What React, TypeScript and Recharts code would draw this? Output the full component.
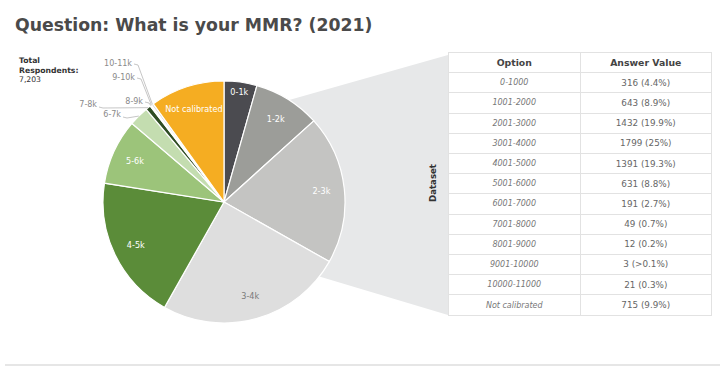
import { PieChart, Pie, Cell } from 'recharts'

const BRACKETS = ['0-1k', '1-2k', '2-3k', '3-4k', '4-5k', '5-6k', '6-7k', '7-8k', '8-9k', '9-10k', '10-11k', 'Not calibrated']
const OPTIONS = ['0-1000', '1001-2000', '2001-3000', '3001-4000', '4001-5000', '5001-6000', '6001-7000', '7001-8000', '8001-9000', '9001-10000', '10000-11000', 'Not calibrated']
const COUNTS = [316, 643, 1432, 1799, 1391, 631, 191, 49, 12, 3, 21, 715]
const SHARES = ['4.4%', '8.9%', '19.9%', '25%', '19.3%', '8.8%', '2.7%', '0.7%', '0.2%', '>0.1%', '0.3%', '9.9%']
const TOTAL_RESPONDENTS = '7,203'

const COLORS = ['#4b4b50', '#9c9d99', '#c4c4c2', '#dedede', '#5b8c39', '#9cc47a', '#c4ddb0', '#2f4d24', '#6e8f55', '#f4f4f4', '#d8d8d8', '#f5ad22']

const data = BRACKETS.map((name, i) => ({ name, value: COUNTS[i] }))

// pie geometry
const CX = 224
const CY = 202
const R = 121
const FONT = '"DejaVu Sans", Verdana, sans-serif'
const RAD = Math.PI / 180

// where the tiny slices put their text (anchor end, baseline, leader y)
const OUTSIDE: Record<string, [number, number, number]> = {
  '10-11k': [132, 66, 64],
  '9-10k': [135, 80, 78],
  '8-9k': [143, 104, 102],
  '7-8k': [97, 107, 107],
  '6-7k': [121, 117, 117],
}

function SliceLabel(props: any) {
  const { cx, cy, midAngle, outerRadius, name } = props
  const out = OUTSIDE[name]
  if (out) {
    const [tx, ty, ly] = out
    const ex = cx + outerRadius * Math.cos(-midAngle * RAD)
    const ey = cy + outerRadius * Math.sin(-midAngle * RAD)
    return (
      <g>
        <polyline points={`${tx + 2},${ly} ${tx + 6},${ly + 1} ${ex},${ey}`} fill="none" stroke="#b8b8b8" strokeWidth={0.8} />
        <text x={tx} y={ty} textAnchor="end" fontSize={8} fontFamily={FONT} fill="#8a8a8a">{name}</text>
      </g>
    )
  }
  const r = outerRadius * (name === '0-1k' ? 0.92 : 0.81)
  const x = cx + r * Math.cos(-midAngle * RAD)
  const y = cy + r * Math.sin(-midAngle * RAD)
  return (
    <text x={x} y={y} textAnchor="middle" dominantBaseline="central" fontSize={8.1} fontFamily={FONT}
      fill={name === '3-4k' ? '#7a7a7a' : '#ffffff'}>
      {name}
    </text>
  )
}

function Backdrop() {
  // grey wedge joining the pie to the table
  const a1 = 57.4 * RAD
  const a2 = -38 * RAD
  const p1 = [CX + R * Math.cos(a1), CY - R * Math.sin(a1)]
  const p2 = [CX + R * Math.cos(a2), CY - R * Math.sin(a2)]
  const pts = `${CX},${CY} ${p1[0]},${p1[1]} 448,55 448,315 ${p2[0]},${p2[1]}`
  return (
    <svg width={720} height={368} style={{ position: 'absolute', left: 0, top: 0 }}>
      <polygon points={pts} fill="#e7e8e9" />
      <text x={15} y={30.5} fontSize={17.3} fontWeight="bold" fontFamily={FONT} fill="#4a4a4a">
        Question: What is your MMR? (2021)
      </text>
      <text x={19} y={63} fontSize={7.7} fontWeight="bold" fontFamily={FONT} fill="#333">Total</text>
      <text x={19} y={72.5} fontSize={7.7} fontWeight="bold" fontFamily={FONT} fill="#333">Respondents:</text>
      <text x={19} y={82} fontSize={7.7} fontFamily={FONT} fill="#333">{TOTAL_RESPONDENTS}</text>
      <text x={433} y={183} transform="rotate(-90 433 183)" textAnchor="middle" dominantBaseline="central"
        fontSize={8.6} fontWeight="bold" fontFamily={FONT} fill="#333">Dataset</text>
      <rect x={5} y={364} width={715} height={2} fill="#e6e6e6" />
    </svg>
  )
}

function DataTable() {
  const cell = { flex: 1, display: 'flex', alignItems: 'center', justifyContent: 'center', height: '100%' } as const
  return (
    <div style={{ position: 'absolute', left: 448, top: 52, width: 264, background: '#fff', border: '1px solid #e2e2e2', boxSizing: 'border-box', fontFamily: FONT }}>
      <div style={{ display: 'flex', height: 20.2, borderBottom: '1px solid #e2e2e2', boxSizing: 'border-box', fontWeight: 'bold', fontSize: 9.3, color: '#444' }}>
        <div style={{ ...cell, borderRight: '1px solid #e2e2e2' }}>Option</div>
        <div style={cell}>Answer Value</div>
      </div>
      {OPTIONS.map((opt, i) => (
        <div key={opt} style={{ display: 'flex', height: 20.2, borderBottom: i < OPTIONS.length - 1 ? '1px solid #e2e2e2' : 'none', boxSizing: 'border-box' }}>
          <div style={{ ...cell, borderRight: '1px solid #e2e2e2', fontStyle: 'italic', fontSize: 8, color: '#777' }}>{opt}</div>
          <div style={{ ...cell, fontSize: 8.8, color: '#666' }}>{`${COUNTS[i]} (${SHARES[i]})`}</div>
        </div>
      ))}
    </div>
  )
}

export default function App() {
  return (
    <div style={{ position: 'relative', width: 720, height: 368, background: '#fff', overflow: 'hidden' }}>
      <style>{'body{margin:0}'}</style>
      <Backdrop />
      <div style={{ position: 'absolute', left: 0, top: 0 }}>
        <PieChart width={720} height={368} margin={{ top: 0, right: 0, bottom: 0, left: 0 }}>
          <Pie
            data={data}
            dataKey="value"
            nameKey="name"
            cx={CX}
            cy={CY}
            outerRadius={R}
            startAngle={90}
            endAngle={-270}
            stroke="#ffffff"
            strokeWidth={1.2}
            label={SliceLabel}
            labelLine={false}
            isAnimationActive={false}
          >
            {data.map((d, i) => (
              <Cell key={d.name} fill={COLORS[i]} />
            ))}
          </Pie>
        </PieChart>
      </div>
      <DataTable />
    </div>
  )
}
